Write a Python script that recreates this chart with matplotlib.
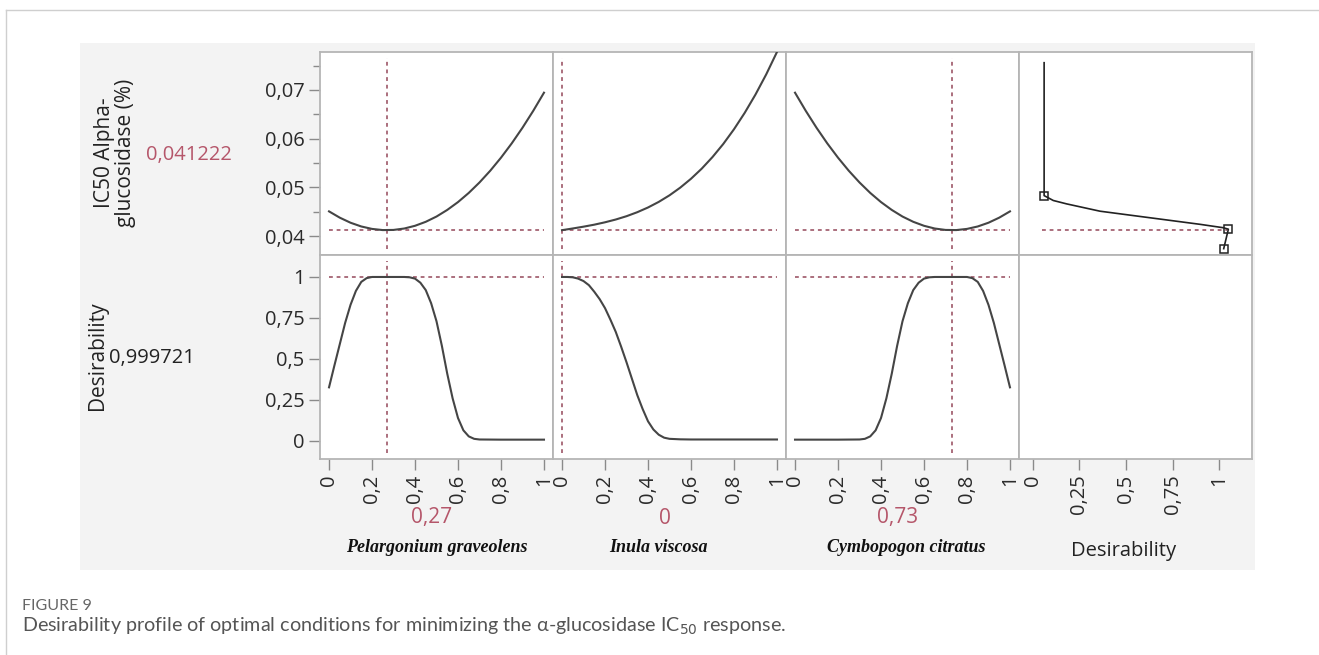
import matplotlib
matplotlib.use("Agg")
import matplotlib.pyplot as plt
from matplotlib.lines import Line2D
from matplotlib.patches import Rectangle

plt.rcParams["font.family"] = ["Open Sans", "DejaVu Sans"]

# ---------- data read from the profiler ----------
factors = ["Pelargonium graveolens", "Inula viscosa", "Cymbopogon citratus"]
cur_x = [0.27, 0.0, 0.73]
cur_x_txt = ["0,27", "0", "0,73"]
cur_ic = 0.041222
cur_d = 0.999721

mix = [0, 0.05, 0.1, 0.15, 0.2, 0.25, 0.3, 0.35, 0.4, 0.45, 0.5,
       0.55, 0.6, 0.65, 0.7, 0.75, 0.8, 0.85, 0.9, 0.95, 1.0]
pel_ic = [0.04506, 0.04377, 0.04273, 0.04196, 0.04146, 0.04122, 0.04125,
          0.04154, 0.04210, 0.04292, 0.04400, 0.04536, 0.04697, 0.04885,
          0.05100, 0.05341, 0.05609, 0.05903, 0.06224, 0.06571, 0.06944]
inu_ic = [0.04120, 0.04155, 0.04192, 0.04233, 0.04282, 0.04339, 0.04407,
          0.04489, 0.04586, 0.04701, 0.04836, 0.04994, 0.05176, 0.05384,
          0.05622, 0.05890, 0.06193, 0.06531, 0.06906, 0.07321, 0.07780]
cym_ic = [0.06944, 0.06571, 0.06224, 0.05903, 0.05609, 0.05341, 0.05100,
          0.04885, 0.04697, 0.04536, 0.04400, 0.04292, 0.04210, 0.04154,
          0.04125, 0.04122, 0.04146, 0.04196, 0.04273, 0.04377, 0.04506]

pel_dx = [0, 0.025, 0.05, 0.075, 0.1, 0.125, 0.15, 0.175, 0.2, 0.25, 0.3,
          0.35, 0.375, 0.4, 0.425, 0.45, 0.475, 0.5, 0.525, 0.55, 0.575,
          0.6, 0.625, 0.65, 0.675, 0.7, 0.8, 0.9, 1.0]
pel_d = [0.327, 0.46, 0.59, 0.72, 0.83, 0.915, 0.97, 0.993, 1.0, 1.0, 1.0,
         1.0, 0.998, 0.99, 0.965, 0.92, 0.84, 0.73, 0.58, 0.41, 0.26,
         0.14, 0.065, 0.028, 0.013, 0.009, 0.008, 0.008, 0.008]
inu_dx = [0, 0.025, 0.05, 0.075, 0.1, 0.125, 0.15, 0.175, 0.2, 0.225, 0.25,
          0.275, 0.3, 0.325, 0.35, 0.375, 0.4, 0.425, 0.45, 0.475, 0.5,
          0.55, 0.6, 0.8, 1.0]
inu_d = [1.0, 1.0, 0.998, 0.99, 0.975, 0.95, 0.91, 0.865, 0.81, 0.74, 0.665,
         0.575, 0.48, 0.38, 0.28, 0.195, 0.12, 0.07, 0.038, 0.02, 0.013,
         0.01, 0.009, 0.009, 0.009]
cym_dx = [0, 0.1, 0.2, 0.3, 0.325, 0.35, 0.375, 0.4, 0.425, 0.45, 0.475,
          0.5, 0.525, 0.55, 0.575, 0.6, 0.625, 0.65, 0.7, 0.75, 0.8, 0.825,
          0.85, 0.875, 0.9, 0.925, 0.95, 0.975, 1.0]
cym_d = [0.008, 0.008, 0.008, 0.009, 0.013, 0.028, 0.065, 0.14, 0.26, 0.41,
         0.58, 0.73, 0.84, 0.92, 0.965, 0.99, 0.998, 1.0, 1.0, 1.0, 1.0,
         0.993, 0.97, 0.915, 0.83, 0.72, 0.59, 0.46, 0.327]

# desirability function (desirability vs IC50)
des_d = [0.06, 0.06, 0.109, 0.181, 0.36, 0.539, 0.719, 0.898, 1.023, 1.05, 1.025]
des_ic = [0.0756, 0.0483, 0.0473, 0.0466, 0.0451, 0.0442, 0.0433, 0.0424,
          0.0417, 0.0414, 0.0374]
des_marks = [1, 9, 10]

ic_ticks = [0.04, 0.05, 0.06, 0.07]
ic_labels = ["0,04", "0,05", "0,06", "0,07"]
ic_minor = [0.045, 0.055, 0.065, 0.075]
d_ticks = [0, 0.25, 0.5, 0.75, 1]
d_labels = ["0", "0,25", "0,5", "0,75", "1"]
x_ticks = [0, 0.2, 0.4, 0.6, 0.8, 1]
x_labels = ["0", "0,2", "0,4", "0,6", "0,8", "1"]

ic_curves = [pel_ic, inu_ic, cym_ic]
d_curves = [(pel_dx, pel_d), (inu_dx, inu_d), (cym_dx, cym_d)]

# ---------- figure ----------
W, H = 1319, 655
fig = plt.figure(figsize=(W / 100, H / 100), dpi=100)
fig.patch.set_facecolor("white")

def fx(px):
    return px / W

def fy(py):
    return 1 - py / H

# page frame + grey panel
fig.add_artist(Line2D([fx(6), 1], [fy(10), fy(10)], color="#cfcfcf", lw=1))
fig.add_artist(Line2D([fx(6), fx(6)], [fy(10), 0], color="#cfcfcf", lw=1))
fig.add_artist(Rectangle((fx(80), fy(570)), fx(1255 - 80), (570 - 43) / H,
                         facecolor="#f3f3f3", edgecolor="none", zorder=0))

curve_c = "#454545"
ref_c = "#94485a"
red_txt = "#b5566a"
spine_c = "#b5b5b5"
tick_c = "#2a2a2a"
dots = (0, (2.5, 2.5))

cols = [320, 553, 786, 1019]
cw = 233
rows = [(52, 255), (255, 459)]
TS = 14.5


def panel(c, r):
    top, bot = rows[r]
    ax = fig.add_axes([fx(cols[c]), fy(bot), fx(cw), (bot - top) / H])
    ax.set_facecolor("white")
    for s in ax.spines.values():
        s.set_color(spine_c)
        s.set_linewidth(1.3)
    ax.tick_params(colors="#8a8a8a", labelcolor=tick_c, labelsize=TS,
                   length=8, width=1, pad=3)
    ax.tick_params(which="minor", colors="#8a8a8a", length=5, width=1)
    return ax


for i in range(3):
    # IC50 profile
    ax = panel(i, 0)
    ax.plot(mix, ic_curves[i], color=curve_c, lw=1.5, zorder=3)
    ax.hlines(cur_ic, 0, 1, colors=ref_c, linestyles=dots, lw=1.1)
    ax.axvline(cur_x[i], ymin=0.03, ymax=0.97, color=ref_c, ls=dots, lw=1.1)
    ax.set_xlim(-0.042, 1.042)
    ax.set_ylim(0.0361, 0.0778)
    ax.set_xticks([])
    if i == 0:
        ax.set_yticks(ic_ticks, ic_labels)
        ax.set_yticks(ic_minor, minor=True)
    else:
        ax.set_yticks([])

    # desirability profile
    ax = panel(i, 1)
    ax.plot(d_curves[i][0], d_curves[i][1], color=curve_c, lw=1.5, zorder=3)
    ax.hlines(cur_d, 0, 1, colors=ref_c, linestyles=dots, lw=1.1)
    ax.axvline(cur_x[i], ymin=0.03, ymax=0.97, color=ref_c, ls=dots, lw=1.1)
    ax.set_xlim(-0.042, 1.042)
    ax.set_ylim(-0.11, 1.134)
    ax.set_xticks(x_ticks, x_labels, rotation=90)
    if i == 0:
        ax.set_yticks(d_ticks, d_labels)
    else:
        ax.set_yticks([])

# desirability function panel
ax = panel(3, 0)
ax.plot(des_d, des_ic, color="#222222", lw=1.2, zorder=3)
ax.plot([des_d[k] for k in des_marks], [des_ic[k] for k in des_marks], "s",
        ms=6, mfc="none", mec="#222222", mew=1.1, zorder=4)
ax.hlines(cur_ic, 0.05, 1.04, colors=ref_c, linestyles=dots, lw=1.1)
ax.set_xlim(-0.075, 1.177)
ax.set_ylim(0.0361, 0.0778)
ax.set_xticks([])
ax.set_yticks([])

ax = panel(3, 1)
ax.set_xlim(-0.075, 1.177)
ax.set_xticks(d_ticks, d_labels, rotation=90)
ax.set_yticks([])

# ---------- labels ----------
fig.text(fx(115), fy(153), "IC50 Alpha-\nglucosidase (%)", rotation=90,
         ha="center", va="center", fontsize=15, color="#222222",
         linespacing=1.05)
fig.text(fx(189), fy(155), "0,041222", ha="center", va="center",
         fontsize=TS, color=red_txt)
fig.text(fx(97), fy(356), "Desirability", rotation=90, ha="center",
         va="center", fontsize=15, color="#222222")
fig.text(fx(152), fy(358), "0,999721", ha="center", va="center",
         fontsize=TS, color="#222222")

val_x = [432, 665, 898]
fac_x = [437, 658, 906]
for i in range(3):
    fig.text(fx(val_x[i]), fy(518), cur_x_txt[i], ha="center", va="center",
             fontsize=TS + 0.5, color=red_txt)
    fig.text(fx(fac_x[i]), fy(548), factors[i], ha="center", va="center",
             fontsize=13, fontweight="bold", fontstyle="italic",
             family="Liberation Serif", color="#111111")
fig.text(fx(1124), fy(551), "Desirability", ha="center", va="center",
         fontsize=14.5, color="#222222")

# caption
fig.text(fx(22), fy(606), "FIGURE 9", ha="left", va="center", fontsize=11.5,
         family="Lato", color="#666666")
fig.text(fx(22), fy(626),
         r"Desirability profile of optimal conditions for minimizing the "
         r"α-glucosidase IC$_{50}$ response.",
         ha="left", va="center", fontsize=14.2, family="Lato", color="#555555")

plt.savefig("out.png", dpi=100)
plt.close()
